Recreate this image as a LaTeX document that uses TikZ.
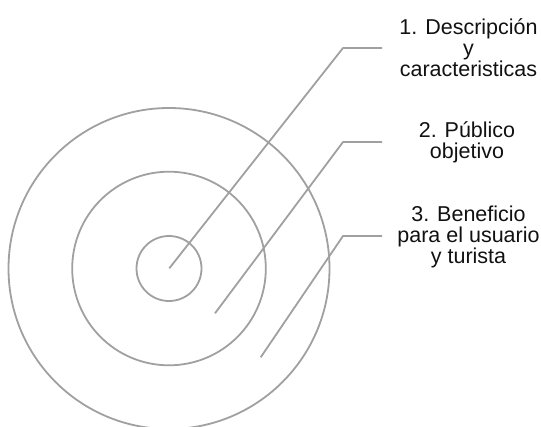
\documentclass[tikz,border=0pt]{standalone}
\usepackage{fontspec}
\setmainfont{Liberation Sans}
\definecolor{ringgray}{HTML}{A0A0A0}
\definecolor{labeltext}{HTML}{111111}
\begin{document}
\begin{tikzpicture}[x=1pt,y=-1pt,
  ring/.style={circle, draw=ringgray, line width=1.8pt, inner sep=0pt},
  leader/.style={draw=ringgray, line width=1.8pt, line join=round},
  label/.style={align=center, text=labeltext, inner sep=0pt,
    font=\fontsize{21.5}{21}\selectfont}]
  \useasboundingbox (0,0) rectangle (541,426);

  % target rings
  \coordinate (ctr) at (169,268.5);
  \node[ring, minimum size=65pt] (inner) at (ctr) {};
  \node[ring, minimum size=193.6pt] (middle) at (ctr) {};
  \node[ring, minimum size=321pt] (outer) at (ctr) {};

  % labels
  \node[label] (t1) at (468.5,48) {1. Descripción\\y\\caracteristicas};
  \node[label] (t2) at (467,142) {2. Público\\objetivo};
  \node[label] (t3) at (468.5,236.5) {3. Beneficio\\para el usuario\\y turista};

  % leader lines
  \coordinate (s1) at (169.3,268.3);
  \coordinate (k1) at (343,48);
  \coordinate (e1) at (382,48);
  \coordinate (s2) at (215,313.3);
  \coordinate (k2) at (343,142);
  \coordinate (e2) at (382,142);
  \coordinate (s3) at (260.7,357.3);
  \coordinate (k3) at (343,236);
  \coordinate (e3) at (382,236);
  \draw[leader] (s1) -- (k1) -- (e1);
  \draw[leader] (s2) -- (k2) -- (e2);
  \draw[leader] (s3) -- (k3) -- (e3);
\end{tikzpicture}
\end{document}
